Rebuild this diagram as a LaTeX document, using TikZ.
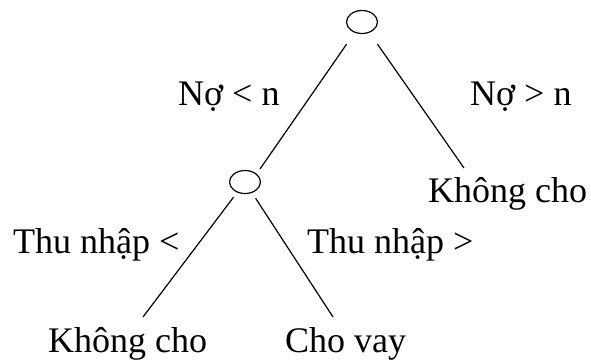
\documentclass[tikz,border=0pt]{standalone}
\usepackage{fontspec}
\setmainfont{Liberation Serif}
\usetikzlibrary{shapes.geometric}
\begin{document}
\begin{tikzpicture}[x=1pt,y=-1pt,
  decision/.style={ellipse,draw,line width=1.2pt,minimum width=31pt,minimum height=23pt,inner sep=0pt},
  edge/.style={line width=1.2pt},
  lbl/.style={anchor=base west,inner sep=0pt,font=\fontsize{36}{40}\selectfont}]
\useasboundingbox (0,0) rectangle (591,360);
\node[decision] (top) at (362,22) {};
\node[decision] (mid) at (245,182) {};
\node[lbl] (lno) at (178,105) {Nợ < n};
\node[lbl] (rno) at (470,105) {Nợ > n};
\node[lbl] (kc1) at (428,202) {Không cho};
\node[lbl] (tl) at (13,253) {Thu nhập <};
\node[lbl] (tr) at (307,253) {Thu nhập >};
\node[lbl] (kc2) at (48,352) {Không cho};
\node[lbl] (cv) at (285,352) {Cho vay};
\coordinate (e1) at (260,169);
\coordinate (e2) at (464,168);
\coordinate (e3) at (143,317);
\coordinate (e4) at (333,317);
\draw[edge,shorten <=14pt] (top) -- (e1);
\draw[edge,shorten <=14pt] (top) -- (e2);
\draw[edge,shorten <=6pt] (mid) -- (e3);
\draw[edge,shorten <=6.5pt] (mid) -- (e4);
\end{tikzpicture}
\end{document}
